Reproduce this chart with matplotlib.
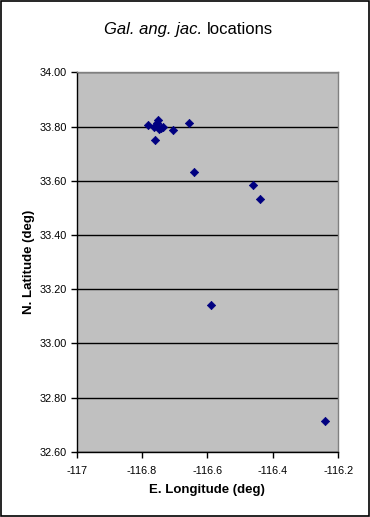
import matplotlib
matplotlib.use("Agg")
import matplotlib.pyplot as plt
from matplotlib.patches import Rectangle

# Galium angustifolium jacinticum collection sites
longitude = [-116.781, -116.750, -116.753, -116.763, -116.747, -116.737,
             -116.742, -116.705, -116.657, -116.760, -116.640, -116.460,
             -116.439, -116.588, -116.240]
latitude = [33.806, 33.825, 33.815, 33.800, 33.793, 33.800,
            33.794, 33.787, 33.814, 33.750, 33.632, 33.584,
            33.532, 33.141, 32.713]

x_ticks = [-117, -116.8, -116.6, -116.4, -116.2]
x_ticklabels = ["-117", "-116.8", "-116.6", "-116.4", "-116.2"]
y_ticks = [32.6, 32.8, 33.0, 33.2, 33.4, 33.6, 33.8, 34.0]

plt.rcParams["font.family"] = ["Liberation Sans", "DejaVu Sans"]

fig = plt.figure(figsize=(3.70, 5.17), dpi=100)
fig.patch.set_facecolor("white")
fig.add_artist(Rectangle((0.0015, 0.001), 0.996, 0.997, transform=fig.transFigure,
                         fill=False, edgecolor="black", linewidth=1.2))

ax = fig.add_axes([0.2073, 0.1263, 0.707, 0.7335])
ax.set_facecolor("#c0c0c0")
ax.scatter(longitude, latitude, marker="D", s=18, color="#000080",
           edgecolors="#000080", linewidths=0.5, zorder=3)

ax.set_xlim(-117, -116.2)
ax.set_ylim(32.6, 34.0)
ax.set_xticks(x_ticks)
ax.set_xticklabels(x_ticklabels)
ax.set_yticks(y_ticks)
ax.set_yticklabels([f"{v:.2f}" for v in y_ticks])
ax.yaxis.grid(True, color="black", linewidth=1.0)
ax.set_axisbelow(True)
ax.tick_params(axis="both", direction="out", length=4, width=1, labelsize=7.8,
               color="black", pad=3)
ax.tick_params(axis="x", pad=6)

for side in ["top", "right"]:
    ax.spines[side].set_color("#808080")
    ax.spines[side].set_linewidth(1.0)
for side in ["left", "bottom"]:
    ax.spines[side].set_color("black")
    ax.spines[side].set_linewidth(1.0)

# title: italic species name, plain rest
fig.text(202 / 370, 1 - 34 / 517, "Gal. ang. jac.", style="italic",
         fontsize=12, ha="right", va="baseline")
fig.text(207 / 370, 1 - 34 / 517, "locations", fontsize=12,
         ha="left", va="baseline")

fig.text(207 / 370, 1 - 490 / 517, "E. Longitude (deg)", fontsize=9.5,
         fontweight="bold", ha="center", va="center")
fig.text(29 / 370, 1 - 262 / 517, "N. Latitude (deg)", fontsize=9.5,
         fontweight="bold", ha="center", va="center", rotation=90)

fig.savefig("out.png", dpi=100)
